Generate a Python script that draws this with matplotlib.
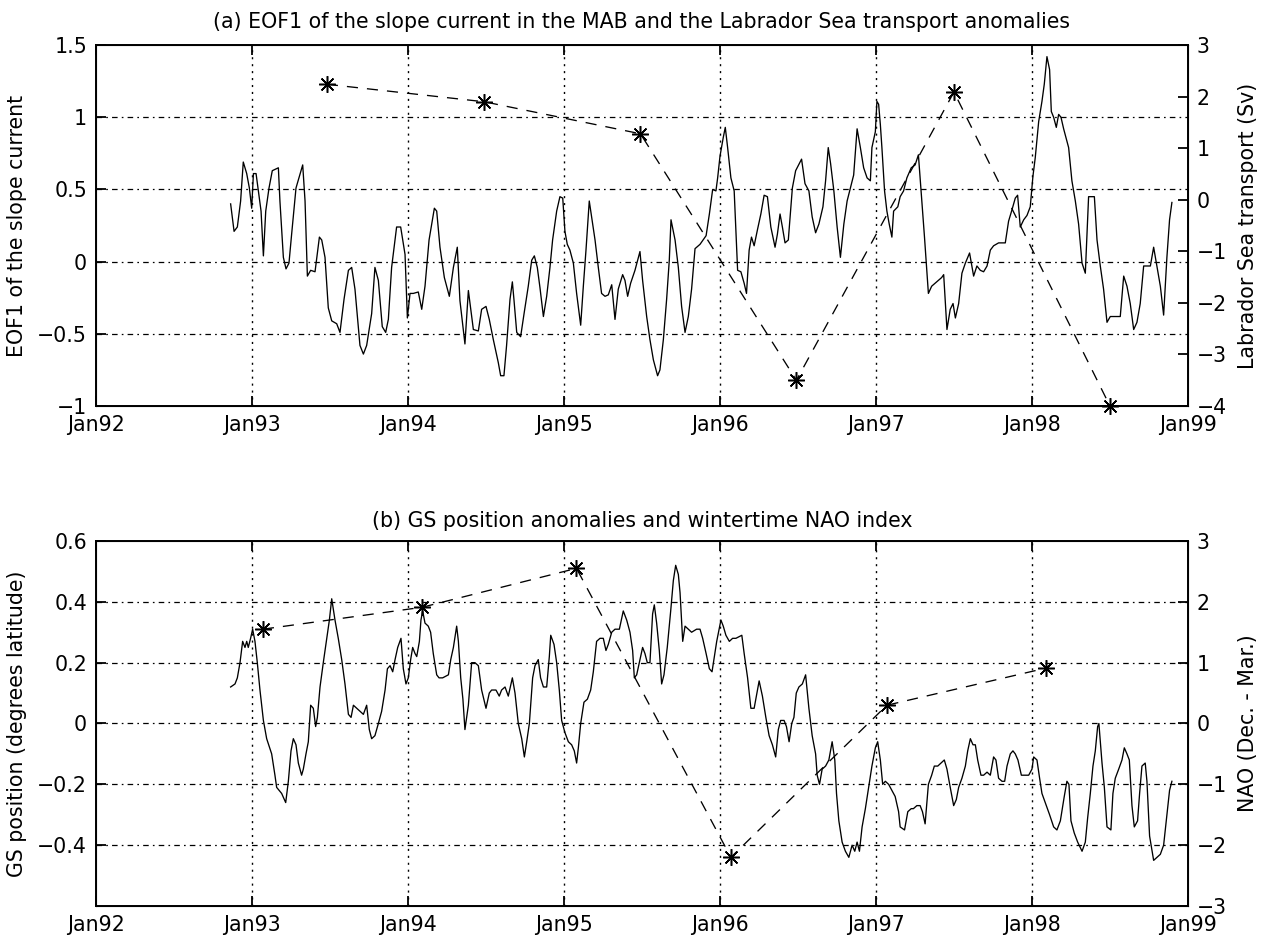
import matplotlib
matplotlib.use("Agg")
import matplotlib.pyplot as plt

plt.rcParams['font.family'] = ['DejaVu Sans']
plt.rcParams['axes.unicode_minus'] = True
plt.rcParams['lines.scale_dashes'] = False

# ---------------- data ----------------
x_tick_labels = ['Jan92', 'Jan93', 'Jan94', 'Jan95', 'Jan96', 'Jan97', 'Jan98', 'Jan99']
x_tick_years = [1992, 1993, 1994, 1995, 1996, 1997, 1998, 1999]

eof_time = [
    1992.863, 1992.885, 1992.906, 1992.927, 1992.944, 1992.966, 1992.983, 1992.998, 1993.009, 1993.026,
    1993.041, 1993.058, 1993.073, 1993.088, 1993.109, 1993.130, 1993.169, 1993.179, 1993.201, 1993.218,
    1993.237, 1993.254, 1993.282, 1993.325, 1993.340, 1993.355, 1993.376, 1993.404, 1993.432, 1993.447,
    1993.468, 1993.489, 1993.511, 1993.543, 1993.564, 1993.590, 1993.618, 1993.639, 1993.660, 1993.692,
    1993.714, 1993.735, 1993.767, 1993.788, 1993.810, 1993.835, 1993.857, 1993.874, 1993.895, 1993.927,
    1993.953, 1993.981, 1993.996, 1994.013, 1994.034, 1994.066, 1994.088, 1994.109, 1994.135, 1994.169,
    1994.184, 1994.205, 1994.233, 1994.265, 1994.291, 1994.316, 1994.333, 1994.365, 1994.387, 1994.419,
    1994.451, 1994.472, 1994.500, 1994.521, 1994.547, 1994.579, 1994.594, 1994.615, 1994.632, 1994.654,
    1994.669, 1994.679, 1994.697, 1994.722, 1994.744, 1994.771, 1994.793, 1994.810, 1994.829, 1994.846,
    1994.868, 1994.889, 1994.910, 1994.927, 1994.953, 1994.974, 1994.992, 1995.006, 1995.021, 1995.038,
    1995.060, 1995.081, 1995.107, 1995.124, 1995.141, 1995.162, 1995.177, 1995.199, 1995.220, 1995.241,
    1995.263, 1995.284, 1995.306, 1995.327, 1995.348, 1995.376, 1995.391, 1995.408, 1995.427, 1995.455,
    1995.487, 1995.504, 1995.530, 1995.551, 1995.573, 1995.600, 1995.615, 1995.637, 1995.658, 1995.675,
    1995.686, 1995.712, 1995.733, 1995.754, 1995.776, 1995.797, 1995.818, 1995.840, 1995.872, 1995.911,
    1995.932, 1995.953, 1995.974, 1995.985, 1996.000, 1996.021, 1996.034, 1996.049, 1996.070, 1996.091,
    1996.113, 1996.134, 1996.155, 1996.170, 1996.187, 1996.202, 1996.219, 1996.240, 1996.262, 1996.283,
    1996.304, 1996.326, 1996.353, 1996.368, 1996.385, 1996.400, 1996.417, 1996.438, 1996.464, 1996.485,
    1996.523, 1996.545, 1996.570, 1996.591, 1996.613, 1996.634, 1996.660, 1996.677, 1996.694, 1996.709,
    1996.730, 1996.751, 1996.772, 1996.794, 1996.815, 1996.836, 1996.857, 1996.879, 1996.900, 1996.921,
    1996.943, 1996.964, 1996.974, 1996.996, 1997.006, 1997.017, 1997.028, 1997.038, 1997.055, 1997.070,
    1997.085, 1997.102, 1997.113, 1997.140, 1997.155, 1997.177, 1997.198, 1997.226, 1997.251, 1997.272,
    1997.289, 1997.311, 1997.336, 1997.357, 1997.389, 1997.421, 1997.434, 1997.455, 1997.476, 1997.494,
    1997.509, 1997.530, 1997.551, 1997.573, 1997.600, 1997.626, 1997.647, 1997.669, 1997.690, 1997.712,
    1997.733, 1997.754, 1997.786, 1997.808, 1997.829, 1997.850, 1997.872, 1997.893, 1997.908, 1997.925,
    1997.947, 1997.968, 1997.989, 1998.006, 1998.021, 1998.043, 1998.064, 1998.079, 1998.096, 1998.113,
    1998.124, 1998.139, 1998.156, 1998.171, 1998.186, 1998.203, 1998.235, 1998.256, 1998.278, 1998.299,
    1998.321, 1998.342, 1998.363, 1998.385, 1998.400, 1998.417, 1998.438, 1998.459, 1998.481, 1998.502,
    1998.534, 1998.566, 1998.588, 1998.609, 1998.630, 1998.652, 1998.673, 1998.694, 1998.716, 1998.737,
    1998.759, 1998.780, 1998.801, 1998.823, 1998.844, 1998.865, 1998.882, 1998.897,
]
eof_value = [
    0.40, 0.21, 0.24, 0.42, 0.69, 0.61, 0.51, 0.37, 0.61, 0.61,
    0.49, 0.35, 0.04, 0.35, 0.51, 0.63, 0.65, 0.42, 0.03, -0.05,
    -0.01, 0.19, 0.51, 0.67, 0.42, -0.10, -0.06, -0.07, 0.17, 0.15,
    0.03, -0.32, -0.41, -0.43, -0.49, -0.26, -0.06, -0.04, -0.19, -0.58,
    -0.64, -0.58, -0.36, -0.04, -0.13, -0.45, -0.49, -0.40, -0.04, 0.24,
    0.24, 0.05, -0.39, -0.22, -0.22, -0.21, -0.33, -0.17, 0.15, 0.37,
    0.35, 0.10, -0.11, -0.24, -0.04, 0.10, -0.27, -0.57, -0.20, -0.47,
    -0.48, -0.33, -0.31, -0.40, -0.54, -0.70, -0.79, -0.79, -0.58, -0.26,
    -0.14, -0.26, -0.49, -0.52, -0.36, -0.17, 0.01, 0.04, -0.04, -0.18,
    -0.38, -0.24, -0.04, 0.15, 0.35, 0.45, 0.44, 0.21, 0.12, 0.08,
    -0.01, -0.22, -0.44, -0.17, 0.08, 0.42, 0.31, 0.15, -0.04, -0.22,
    -0.24, -0.23, -0.16, -0.40, -0.19, -0.09, -0.13, -0.24, -0.15, -0.06,
    0.07, -0.13, -0.38, -0.54, -0.68, -0.79, -0.75, -0.54, -0.26, 0.01,
    0.29, 0.15, -0.04, -0.31, -0.49, -0.38, -0.19, 0.09, 0.12, 0.18,
    0.33, 0.50, 0.49, 0.58, 0.73, 0.86, 0.93, 0.79, 0.58, 0.49,
    -0.06, -0.07, -0.15, -0.22, 0.08, 0.17, 0.11, 0.22, 0.33, 0.46,
    0.45, 0.24, 0.10, 0.19, 0.33, 0.24, 0.13, 0.15, 0.51, 0.63,
    0.71, 0.54, 0.49, 0.31, 0.20, 0.26, 0.38, 0.56, 0.79, 0.68,
    0.49, 0.24, 0.03, 0.26, 0.42, 0.51, 0.60, 0.92, 0.79, 0.65,
    0.58, 0.56, 0.79, 0.90, 1.11, 1.09, 0.95, 0.79, 0.49, 0.35,
    0.26, 0.17, 0.35, 0.38, 0.45, 0.49, 0.58, 0.65, 0.67, 0.74,
    0.49, 0.17, -0.22, -0.17, -0.14, -0.11, -0.09, -0.47, -0.33, -0.29,
    -0.39, -0.29, -0.08, -0.01, 0.06, -0.10, -0.03, -0.06, -0.07, -0.03,
    0.08, 0.11, 0.13, 0.13, 0.13, 0.28, 0.36, 0.44, 0.46, 0.24,
    0.29, 0.32, 0.38, 0.59, 0.72, 0.97, 1.11, 1.23, 1.42, 1.33,
    1.04, 1.00, 0.93, 1.02, 1.00, 0.92, 0.79, 0.56, 0.42, 0.26,
    -0.01, -0.08, 0.45, 0.45, 0.45, 0.15, -0.03, -0.19, -0.42, -0.38,
    -0.38, -0.38, -0.10, -0.17, -0.29, -0.47, -0.42, -0.29, -0.03, -0.03,
    -0.03, 0.10, -0.03, -0.17, -0.37, 0.03, 0.29, 0.41,
]

labrador_time = [1993.48, 1994.49, 1995.49, 1996.49, 1997.50, 1998.50]
labrador_sv = [2.24, 1.90, 1.28, -3.50, 2.09, -4.00]

gs_time = [
    1992.863, 1992.891, 1992.906, 1992.923, 1992.940, 1992.955, 1992.966, 1992.976, 1992.991, 1993.004,
    1993.019, 1993.034, 1993.051, 1993.073, 1993.094, 1993.126, 1993.147, 1993.158, 1993.190, 1993.216,
    1993.233, 1993.250, 1993.265, 1993.282, 1993.297, 1993.318, 1993.329, 1993.346, 1993.361, 1993.376,
    1993.393, 1993.408, 1993.419, 1993.436, 1993.457, 1993.474, 1993.496, 1993.511, 1993.532, 1993.553,
    1993.575, 1993.596, 1993.618, 1993.635, 1993.650, 1993.671, 1993.692, 1993.714, 1993.735, 1993.752,
    1993.767, 1993.788, 1993.810, 1993.831, 1993.853, 1993.868, 1993.885, 1993.902, 1993.917, 1993.934,
    1993.955, 1993.970, 1993.987, 1994.002, 1994.017, 1994.030, 1994.045, 1994.056, 1994.073, 1994.083,
    1994.094, 1994.109, 1994.130, 1994.145, 1994.162, 1994.184, 1994.199, 1994.222, 1994.259, 1994.274,
    1994.291, 1994.312, 1994.323, 1994.338, 1994.352, 1994.365, 1994.387, 1994.408, 1994.429, 1994.451,
    1994.472, 1994.500, 1994.521, 1994.536, 1994.564, 1994.585, 1994.600, 1994.622, 1994.643, 1994.669,
    1994.686, 1994.707, 1994.729, 1994.746, 1994.761, 1994.778, 1994.799, 1994.814, 1994.835, 1994.850,
    1994.868, 1994.889, 1994.906, 1994.915, 1994.936, 1994.953, 1994.970, 1994.985, 1995.006, 1995.028,
    1995.049, 1995.066, 1995.081, 1995.092, 1995.107, 1995.128, 1995.150, 1995.171, 1995.188, 1995.209,
    1995.231, 1995.252, 1995.269, 1995.284, 1995.306, 1995.327, 1995.355, 1995.380, 1995.402, 1995.423,
    1995.440, 1995.451, 1995.466, 1995.487, 1995.504, 1995.519, 1995.534, 1995.551, 1995.568, 1995.579,
    1995.594, 1995.611, 1995.626, 1995.641, 1995.662, 1995.684, 1995.701, 1995.716, 1995.733, 1995.744,
    1995.761, 1995.776, 1995.797, 1995.818, 1995.850, 1995.872, 1995.889, 1995.911, 1995.932, 1995.949,
    1995.964, 1995.979, 1996.006, 1996.021, 1996.038, 1996.060, 1996.081, 1996.102, 1996.140, 1996.155,
    1996.177, 1996.198, 1996.219, 1996.240, 1996.251, 1996.272, 1996.294, 1996.315, 1996.336, 1996.357,
    1996.374, 1996.389, 1996.411, 1996.426, 1996.443, 1996.460, 1996.474, 1996.489, 1996.506, 1996.528,
    1996.549, 1996.570, 1996.591, 1996.613, 1996.623, 1996.638, 1996.655, 1996.677, 1996.698, 1996.719,
    1996.736, 1996.747, 1996.762, 1996.783, 1996.804, 1996.826, 1996.847, 1996.864, 1996.879, 1996.894,
    1996.911, 1996.932, 1996.953, 1996.974, 1996.996, 1997.011, 1997.028, 1997.043, 1997.060, 1997.081,
    1997.102, 1997.123, 1997.145, 1997.155, 1997.183, 1997.204, 1997.226, 1997.240, 1997.262, 1997.283,
    1997.298, 1997.315, 1997.336, 1997.357, 1997.374, 1997.396, 1997.417, 1997.438, 1997.455, 1997.476,
    1997.498, 1997.515, 1997.530, 1997.551, 1997.573, 1997.588, 1997.605, 1997.622, 1997.637, 1997.652,
    1997.673, 1997.690, 1997.712, 1997.733, 1997.754, 1997.769, 1997.786, 1997.808, 1997.825, 1997.840,
    1997.861, 1997.878, 1997.893, 1997.910, 1997.932, 1997.957, 1997.979, 1998.000, 1998.011, 1998.032,
    1998.049, 1998.064, 1998.092, 1998.113, 1998.139, 1998.160, 1998.182, 1998.207, 1998.224, 1998.237,
    1998.250, 1998.271, 1998.293, 1998.321, 1998.342, 1998.357, 1998.374, 1998.391, 1998.406, 1998.421,
    1998.429, 1998.438, 1998.449, 1998.464, 1998.481, 1998.506, 1998.519, 1998.534, 1998.556, 1998.577,
    1998.592, 1998.609, 1998.624, 1998.641, 1998.656, 1998.677, 1998.690, 1998.705, 1998.726, 1998.737,
    1998.754, 1998.780, 1998.801, 1998.823, 1998.844, 1998.865, 1998.882, 1998.897,
]
gs_value = [
    0.12, 0.13, 0.15, 0.20, 0.27, 0.25, 0.27, 0.25, 0.28, 0.31,
    0.27, 0.20, 0.11, 0.01, -0.05, -0.10, -0.17, -0.21, -0.23, -0.26,
    -0.19, -0.09, -0.05, -0.07, -0.13, -0.17, -0.15, -0.10, -0.06, 0.06,
    0.05, -0.01, 0.02, 0.12, 0.20, 0.26, 0.34, 0.41, 0.34, 0.28,
    0.21, 0.13, 0.03, 0.02, 0.06, 0.05, 0.04, 0.03, 0.06, -0.02,
    -0.05, -0.04, 0.00, 0.04, 0.11, 0.18, 0.19, 0.17, 0.21, 0.25,
    0.28, 0.18, 0.13, 0.15, 0.21, 0.25, 0.23, 0.22, 0.27, 0.34,
    0.37, 0.33, 0.32, 0.30, 0.23, 0.16, 0.15, 0.15, 0.16, 0.21,
    0.25, 0.32, 0.27, 0.15, 0.08, -0.02, 0.06, 0.20, 0.20, 0.19,
    0.11, 0.05, 0.10, 0.11, 0.11, 0.09, 0.11, 0.12, 0.09, 0.15,
    0.10, 0.00, -0.05, -0.11, -0.06, 0.00, 0.15, 0.19, 0.21, 0.15,
    0.12, 0.12, 0.22, 0.29, 0.26, 0.20, 0.11, 0.01, -0.03, -0.06,
    -0.07, -0.09, -0.13, -0.08, 0.00, 0.07, 0.08, 0.11, 0.17, 0.27,
    0.28, 0.28, 0.24, 0.26, 0.30, 0.31, 0.31, 0.37, 0.34, 0.30,
    0.24, 0.15, 0.16, 0.21, 0.25, 0.23, 0.20, 0.20, 0.36, 0.39,
    0.33, 0.24, 0.13, 0.16, 0.25, 0.37, 0.47, 0.52, 0.49, 0.43,
    0.27, 0.32, 0.31, 0.30, 0.31, 0.31, 0.28, 0.23, 0.18, 0.17,
    0.22, 0.27, 0.34, 0.32, 0.29, 0.27, 0.28, 0.28, 0.29, 0.23,
    0.15, 0.05, 0.05, 0.11, 0.14, 0.09, 0.02, -0.04, -0.07, -0.11,
    -0.02, 0.01, 0.01, -0.01, -0.06, 0.00, 0.02, 0.10, 0.12, 0.13,
    0.16, 0.05, -0.04, -0.10, -0.17, -0.20, -0.15, -0.14, -0.12, -0.06,
    -0.12, -0.23, -0.32, -0.39, -0.42, -0.44, -0.40, -0.42, -0.39, -0.42,
    -0.34, -0.28, -0.21, -0.14, -0.08, -0.06, -0.12, -0.20, -0.19, -0.20,
    -0.22, -0.24, -0.29, -0.34, -0.35, -0.29, -0.28, -0.28, -0.27, -0.27,
    -0.29, -0.33, -0.20, -0.17, -0.14, -0.14, -0.13, -0.12, -0.15, -0.21,
    -0.27, -0.25, -0.21, -0.18, -0.14, -0.09, -0.05, -0.07, -0.07, -0.12,
    -0.17, -0.17, -0.16, -0.17, -0.11, -0.12, -0.18, -0.19, -0.19, -0.14,
    -0.10, -0.09, -0.10, -0.12, -0.17, -0.17, -0.17, -0.15, -0.11, -0.12,
    -0.18, -0.23, -0.27, -0.30, -0.34, -0.35, -0.32, -0.24, -0.19, -0.20,
    -0.32, -0.36, -0.39, -0.42, -0.39, -0.31, -0.23, -0.14, -0.09, -0.01,
    0.00, -0.06, -0.13, -0.21, -0.34, -0.35, -0.23, -0.18, -0.15, -0.12,
    -0.08, -0.10, -0.12, -0.27, -0.34, -0.32, -0.23, -0.14, -0.13, -0.19,
    -0.37, -0.45, -0.44, -0.43, -0.40, -0.30, -0.22, -0.19,
]

nao_time = [1993.07, 1994.09, 1995.08, 1996.07, 1997.07, 1998.09]
nao_index = [1.55, 1.91, 2.55, -2.20, 0.30, 0.91]

# ---------------- styling ----------------
FS = 14.8
GRID_H = (0, (4, 3, 1.2, 3))
GRID_V = (0, (1.5, 3.5))

fig = plt.figure(figsize=(12.65, 9.41), dpi=100)


def fmt(v):
    return ('%g' % v).replace('-', '\u2212')


def panel(rect, t, v, tt, tv, ylim1, yticks1, ylim2, yticks2, title, title_pad, yl1, yl2):
    ax = fig.add_axes(rect)
    ax.plot(t, v, color='k', lw=0.95, zorder=3)
    ax.set_xlim(x_tick_years[0], x_tick_years[-1])
    ax.set_ylim(*ylim1)
    ax.set_yticks(yticks1)
    ax.set_yticklabels([fmt(y) for y in yticks1])
    ax.set_xticks(x_tick_years)
    ax.set_xticklabels(x_tick_labels)
    ax.tick_params(direction='in', length=7, width=1.3, top=True, right=True,
                   labelsize=FS, pad=6.5, colors='k')
    for s in ax.spines.values():
        s.set_linewidth(1.4)
    for y in yticks1:
        if ylim1[0] < y < ylim1[1]:
            ax.axhline(y, color='k', lw=0.9, linestyle=GRID_H, zorder=1)
    for x in x_tick_years[1:-1]:
        ax.axvline(x, color='k', lw=1.0, linestyle=GRID_V, zorder=1)
    ax.set_title(title, fontsize=FS, pad=title_pad)
    ax.set_ylabel(yl1, fontsize=FS, labelpad=7)

    ax2 = ax.twinx()
    ax2.plot(tt, tv, color='k', lw=0.95, linestyle=(0, (8, 6.5)), clip_on=False, zorder=3)
    ax2.plot(tt, tv, linestyle='none', marker=(8, 2, 0), ms=12, mew=1.1,
             color='k', clip_on=False, zorder=4)
    ax2.set_xlim(x_tick_years[0], x_tick_years[-1])
    ax2.set_ylim(*ylim2)
    ax2.set_yticks(yticks2)
    ax2.set_yticklabels([fmt(y) for y in yticks2])
    ax2.tick_params(direction='in', length=7, width=1.3, labelsize=FS, pad=6.5)
    ax2.set_ylabel(yl2, fontsize=FS, labelpad=8)
    return ax, ax2


panel([0.0759, 0.5685, 0.8632, 0.3836], eof_time, eof_value, labrador_time, labrador_sv,
      (-1, 1.5), [-1, -0.5, 0, 0.5, 1, 1.5], (-4, 3), [-4, -3, -2, -1, 0, 1, 2, 3],
      '(a) EOF1 of the slope current in the MAB and the Labrador Sea transport anomalies', 12,
      'EOF1 of the slope current', 'Labrador Sea transport (Sv)')

panel([0.0759, 0.0372, 0.8632, 0.3879], gs_time, gs_value, nao_time, nao_index,
      (-0.6, 0.6), [-0.4, -0.2, 0, 0.2, 0.4, 0.6], (-3, 3), [-3, -2, -1, 0, 1, 2, 3],
      '(b) GS position anomalies and wintertime NAO index', 10,
      'GS position (degrees latitude)', 'NAO (Dec. - Mar.)')

fig.savefig('out.png', dpi=100)
